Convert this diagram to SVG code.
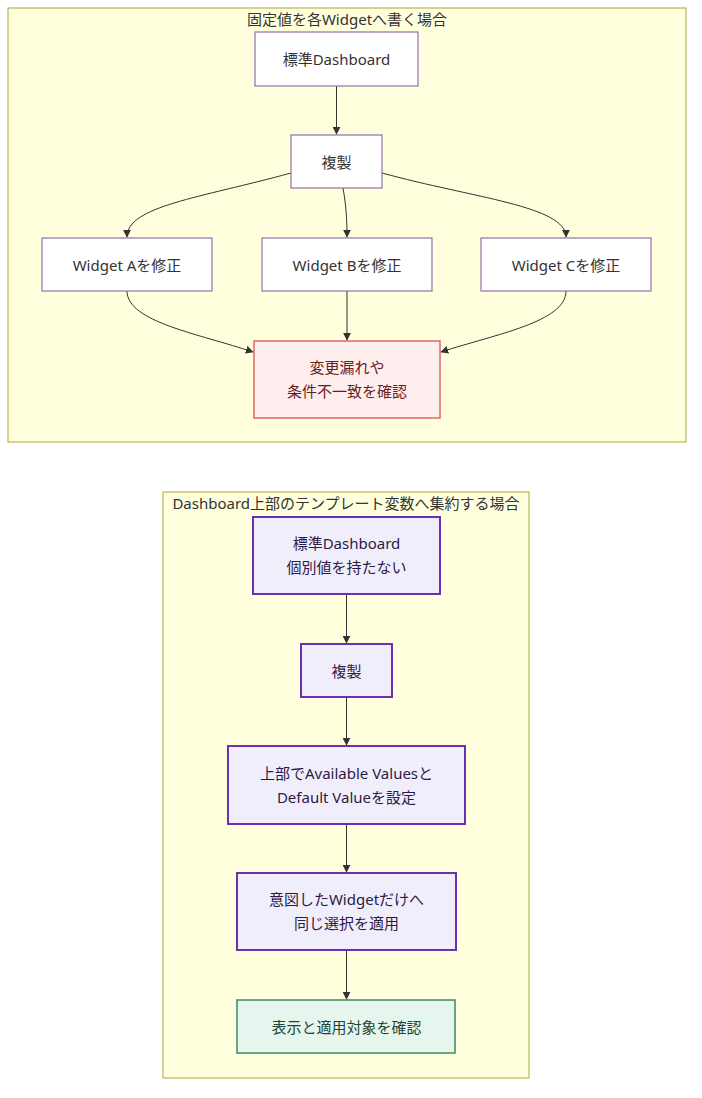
<svg xmlns="http://www.w3.org/2000/svg" width="702" height="1098" viewBox="0 0 702 1098">
<defs>
<marker id="arr" viewBox="0 0 10 10" refX="9" refY="5" markerWidth="8" markerHeight="8" markerUnits="userSpaceOnUse" orient="auto">
<path d="M0,0 L10,5 L0,10 z" fill="#333"/>
</marker>
<style>
text{font-family:"Noto Sans","Noto Sans CJK JP",sans-serif;font-size:15px;text-anchor:middle;dominant-baseline:central}
.cluster{fill:#ffffde;stroke:#aaaa33;stroke-width:1}
.ctitle{fill:#333}
.n{fill:#ffffff;stroke:#9370a8;stroke-width:1.2}
.nt{fill:#333}
.red{fill:#ffeeee;stroke:#e06666;stroke-width:1.5}
.redt{fill:#6b1d1d}
.pur{fill:#f1eefb;stroke:#6a30b0;stroke-width:2}
.purt{fill:#2c1a45}
.grn{fill:#e6f6ee;stroke:#3a8a60;stroke-width:1.5}
.grnt{fill:#1e4532}
.e{fill:none;stroke:#333;stroke-width:1;marker-end:url(#arr)}
</style>
</defs>
<g id="cluster1">
<rect class="cluster" x="8" y="8" width="678" height="434"/>
<text class="ctitle" x="347" y="19">固定値を各Widgetへ書く場合</text>
</g>
<g id="cluster2">
<rect class="cluster" x="163" y="492" width="366" height="586"/>
<text class="ctitle" x="346" y="503">Dashboard上部のテンプレート変数へ集約する場合</text>
</g>
<g id="connectors">
<path class="e" d="M336.5,86 L336.5,134"/>
<path class="e" d="M291,173 C200,198 127,206 127,237"/>
<path class="e" d="M343,188 C346,205 347,218 347,237"/>
<path class="e" d="M382,173 C473,198 566,206 566,237"/>
<path class="e" d="M127,291 C127,322 200,334 253,352"/>
<path class="e" d="M347,291 L347,340"/>
<path class="e" d="M566,291 C566,322 496,334 441,352"/>
<path class="e" d="M346.5,594 L346.5,643"/>
<path class="e" d="M346.5,697 L346.5,745"/>
<path class="e" d="M346.5,824 L346.5,872"/>
<path class="e" d="M346.5,950 L346.5,999"/>
</g>
<g id="a1">
<rect class="n" x="255" y="32" width="163" height="54"/>
<text class="nt" x="336.5" y="59">標準Dashboard</text>
</g>
<g id="a2">
<rect class="n" x="291" y="135" width="91" height="53"/>
<text class="nt" x="336.5" y="161.5">複製</text>
</g>
<g id="wa">
<rect class="n" x="42" y="238" width="170" height="53"/>
<text class="nt" x="127" y="264.5">Widget Aを修正</text>
</g>
<g id="wb">
<rect class="n" x="262" y="238" width="170" height="53"/>
<text class="nt" x="347" y="264.5">Widget Bを修正</text>
</g>
<g id="wc">
<rect class="n" x="481" y="238" width="170" height="53"/>
<text class="nt" x="566" y="264.5">Widget Cを修正</text>
</g>
<g id="check1">
<rect class="red" x="254" y="341" width="186" height="77"/>
<text class="redt" x="347" y="367">変更漏れや</text>
<text class="redt" x="347" y="391">条件不一致を確認</text>
</g>
<g id="b1">
<rect class="pur" x="253" y="517" width="187" height="77"/>
<text class="purt" x="346.5" y="543">標準Dashboard</text>
<text class="purt" x="346.5" y="567">個別値を持たない</text>
</g>
<g id="b2">
<rect class="pur" x="301" y="644" width="91" height="53"/>
<text class="purt" x="346.5" y="670.5">複製</text>
</g>
<g id="b3">
<rect class="pur" x="228" y="746" width="237" height="78"/>
<text class="purt" x="346.5" y="773">上部でAvailable Valuesと</text>
<text class="purt" x="346.5" y="797">Default Valueを設定</text>
</g>
<g id="b4">
<rect class="pur" x="237" y="873" width="219" height="77"/>
<text class="purt" x="346.5" y="899">意図したWidgetだけへ</text>
<text class="purt" x="346.5" y="923">同じ選択を適用</text>
</g>
<g id="b5">
<rect class="grn" x="237" y="1000" width="218" height="53"/>
<text class="grnt" x="346.5" y="1026.5">表示と適用対象を確認</text>
</g>
</svg>
